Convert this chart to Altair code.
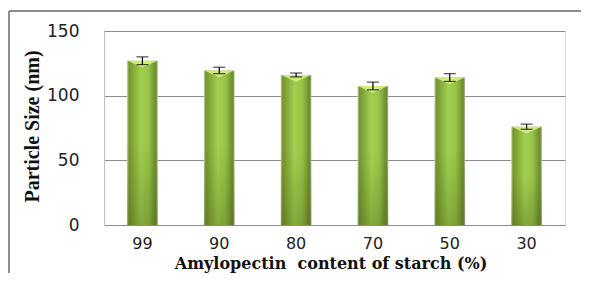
import altair as alt
import pandas as pd

categories = ["99", "90", "80", "70", "50", "30"]
sizes = [127, 119.5, 116, 107.5, 114, 76]
errors = [3, 2.5, 1.5, 3, 3, 2]

df = pd.DataFrame({"cat": categories, "size": sizes, "err": errors})
df["lo"] = df["size"] - df["err"]
df["hi"] = df["size"] + df["err"]

W, H = 461, 194
PL, PT, PR, PB = 96, 23, 16, 48

x_enc = alt.X("cat:N", sort=categories,
              scale=alt.Scale(paddingInner=0.6, paddingOuter=0.3),
              axis=alt.Axis(title="Amylopectin\u00a0 content of starch (%)", labelAngle=0,
                            ticks=False, domainColor="#8c8c8c", labelPadding=10,
                            labelFont="DejaVu Sans", labelFontSize=16, labelColor="#222222",
                            titleFont="DejaVu Serif", titleFontSize=16, titleFontWeight="bold",
                            titleColor="#111111", titleBaseline="alphabetic", titleY=43,
                            titleX=W / 2 - 4))
y_scale = alt.Scale(domain=[0, 150])

base = alt.Chart(df)

bars = base.mark_bar(
    color=alt.Gradient(gradient="linear",
                       stops=[alt.GradientStop(color="#c9d3b8", offset=0),
                              alt.GradientStop(color="#73952c", offset=0.06),
                              alt.GradientStop(color="#a3cf50", offset=0.45),
                              alt.GradientStop(color="#97c347", offset=0.7),
                              alt.GradientStop(color="#6a8a2b", offset=0.94),
                              alt.GradientStop(color="#b8c2a8", offset=1)],
                       x1=0, x2=1, y1=0, y2=0)
).encode(
    x=x_enc,
    y=alt.Y("size:Q", scale=y_scale,
            axis=alt.Axis(title="Particle Size (nm)", values=[0, 50, 100, 150], ticks=False,
                          domainColor="#c0c0c0", gridColor="#8c8c8c", gridWidth=1,
                          labelPadding=25, labelFont="DejaVu Sans", labelFontSize=17,
                          labelColor="#222222",
                          titleFont="Liberation Serif", titleFontSize=20, titleFontWeight="bold",
                          titleColor="#111111", titleAngle=-90, titleAlign="center",
                          titleBaseline="alphabetic", titleX=-66, titleY=H / 2 - 2)),
)

shade = base.mark_bar(
    color=alt.Gradient(gradient="linear",
                       stops=[alt.GradientStop(color="rgba(60,80,10,0)", offset=0),
                              alt.GradientStop(color="rgba(60,80,10,0)", offset=0.5),
                              alt.GradientStop(color="rgba(50,70,10,0.28)", offset=1)],
                       x1=0, x2=0, y1=0, y2=1)
).encode(x=alt.X("cat:N", sort=categories), y=alt.Y("size:Q", scale=y_scale))

bevel = base.mark_point(
    shape="M-1,0L1,0L0,0.45Z", filled=True, size=900, color="#d6ee86", opacity=0.9
).encode(x=alt.X("cat:N", sort=categories), y=alt.Y("size:Q", scale=y_scale))

err_rule = base.mark_rule(color="#000000", strokeWidth=1.2).encode(
    x=alt.X("cat:N", sort=categories), y=alt.Y("lo:Q", scale=y_scale), y2="hi:Q")
cap_hi = base.mark_tick(color="#000000", orient="horizontal", size=12, thickness=1.2).encode(
    x=alt.X("cat:N", sort=categories), y=alt.Y("hi:Q", scale=y_scale))
cap_lo = base.mark_tick(color="#000000", orient="horizontal", size=12, thickness=1.2).encode(
    x=alt.X("cat:N", sort=categories), y=alt.Y("lo:Q", scale=y_scale))

frame_data = alt.Data(values=[{"k": 0}])
border_top = alt.Chart(frame_data).mark_rule(color="#8c8c8c", strokeWidth=2).encode(
    x=alt.value(-95), x2=alt.value(W + PR), y=alt.value(-20))
border_left = alt.Chart(frame_data).mark_rule(color="#8c8c8c", strokeWidth=2).encode(
    x=alt.value(-95), y=alt.value(-20), y2=alt.value(H + PB))

chart = alt.layer(bars, shade, bevel, err_rule, cap_hi, cap_lo, border_top, border_left).properties(
    width=W, height=H,
    autosize=alt.AutoSizeParams(type="none"),
    padding={"left": PL, "top": PT, "right": PR, "bottom": PB},
).configure_view(stroke=None).configure(background="white")

chart.save("out.html", embed_options={"renderer": "svg", "actions": False})
